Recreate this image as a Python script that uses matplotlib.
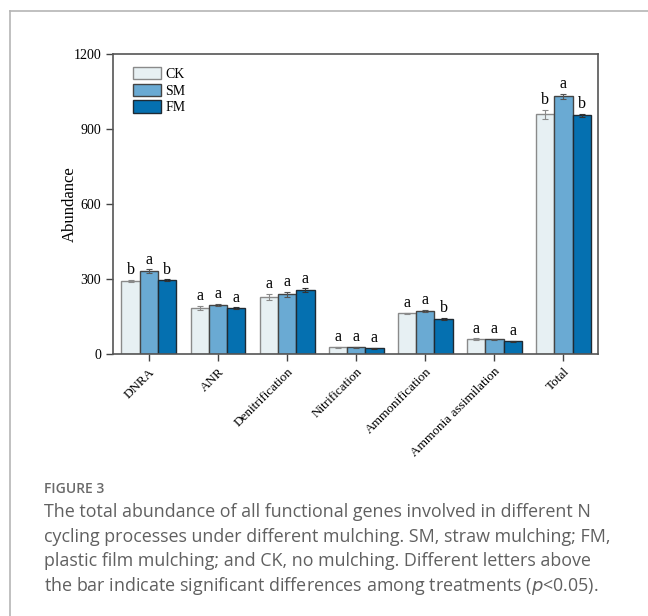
import numpy as np
import matplotlib
matplotlib.use("Agg")
import matplotlib.pyplot as plt
from matplotlib.lines import Line2D

PROCESI = ["DNRA", "ANR", "Denitrification", "Nitrification",
           "Ammonification", "Ammonia assimilation", "Total"]
TRETMANI = ["CK", "SM", "FM"]

CK = [293, 185, 228, 28, 163, 59, 959]
SM = [332, 196, 240, 28, 172, 59, 1031]
FM = [296, 185, 255, 24, 140, 51, 956]

CK_ERR = [4, 7, 12, 2, 3, 4, 17]
SM_ERR = [8, 5, 10, 2, 4, 3, 9]
FM_ERR = [4, 3, 8, 2, 4, 2, 6]

CK_SLOVA = ["b", "a", "a", "a", "a", "a", "b"]
SM_SLOVA = ["a", "a", "a", "a", "a", "a", "a"]
FM_SLOVA = ["b", "a", "a", "a", "b", "a", "b"]

BOJE = ["#e7f0f3", "#6aaad3", "#0570b0"]
IVICE = ["#8a8a8a", "#444444", "#1f2a33"]
ERR_BOJE = ["#8a8a8a", "#555555", "#333333"]

SERIF = "Liberation Serif"

fig = plt.figure(figsize=(6.48, 6.16), dpi=100)

# okvir slike (gornja i lijeva linija)
fig.add_artist(Line2D([10 / 648, 1.0], [1 - 11 / 616, 1 - 11 / 616],
                      color="#b5b5b5", lw=1.2, transform=fig.transFigure))
fig.add_artist(Line2D([10 / 648, 10 / 648], [0.0, 1 - 11 / 616],
                      color="#b5b5b5", lw=1.2, transform=fig.transFigure))

ax = fig.add_axes([113 / 648, 1 - 354 / 616, 485 / 648, 300 / 616])

x = np.arange(len(PROCESI))
sirina = 0.265
serije = [(CK, CK_ERR, CK_SLOVA), (SM, SM_ERR, SM_SLOVA), (FM, FM_ERR, FM_SLOVA)]
for i, (vrijednosti, greske, slova) in enumerate(serije):
    pozicije = x + (i - 1) * sirina
    ax.bar(pozicije, vrijednosti, width=sirina, color=BOJE[i],
           edgecolor=IVICE[i], linewidth=1.0, label=TRETMANI[i], zorder=2)
    ax.errorbar(pozicije, vrijednosti, yerr=greske, fmt="none",
                ecolor=ERR_BOJE[i], elinewidth=0.8, capsize=2.5,
                capthick=0.8, zorder=3)
    for px, v, e, s in zip(pozicije, vrijednosti, greske, slova):
        ax.text(px, v + e + 6, s, ha="center", va="bottom",
                fontsize=11.5, family=SERIF)

ax.set_xlim(-0.52, 6.5)
ax.set_ylim(0, 1200)
ax.set_yticks([0, 300, 600, 900, 1200])
ax.set_xticks(x)
ax.set_xticklabels(PROCESI, rotation=45, ha="right", rotation_mode="anchor",
                   fontsize=9.5, family=SERIF)
for t in ax.get_yticklabels():
    t.set_family(SERIF)
    t.set_fontsize(10)
ax.set_ylabel("Abundance", fontsize=12, family=SERIF, labelpad=-3)
ax.tick_params(direction="out", length=5, width=1, color="#444444")
for sp in ax.spines.values():
    sp.set_color("#555555")
    sp.set_linewidth(1.2)

ax.legend(loc="upper left", bbox_to_anchor=(0.025, 0.985), frameon=False,
          prop={"family": SERIF, "size": 10}, handlelength=2.0,
          handleheight=1.0, labelspacing=0.2, handletextpad=0.3,
          borderaxespad=0.2)

# potpis
fig.text(44 / 648, 1 - 489 / 616, "FIGURE 3", fontsize=10, color="#6a6a6a",
         family="Open Sans", fontweight="semibold", va="center")
redovi = [
    "The total abundance of all functional genes involved in different N",
    "cycling processes under different mulching. SM, straw mulching; FM,",
    "plastic film mulching; and CK, no mulching. Different letters above",
]
for k, red in enumerate(redovi):
    fig.text(44 / 648, 1 - (512 + 24.7 * k) / 616, red, fontsize=12.9,
             color="#606060", family="Open Sans", va="center")
fig.text(44 / 648, 1 - 586 / 616,
         "the bar indicate significant differences among treatments ($\\mathit{p}$<0.05).",
         fontsize=12.9, color="#606060", family="Open Sans", va="center")

fig.savefig("out.png", dpi=100)
